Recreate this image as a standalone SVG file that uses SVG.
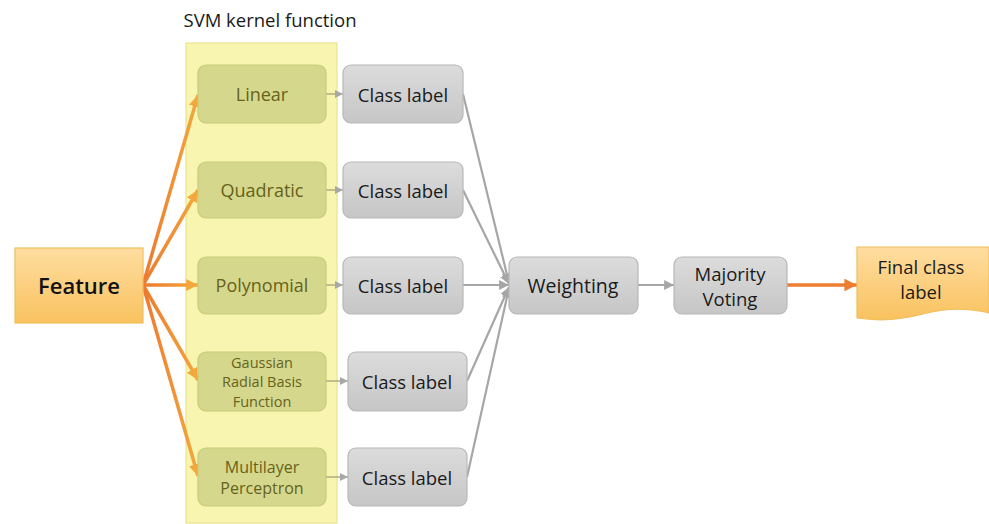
<svg xmlns="http://www.w3.org/2000/svg" width="989" height="524" viewBox="0 0 989 524">
<defs>
<style>
text{font-family:"Open Sans","Liberation Sans",sans-serif;text-anchor:middle;dominant-baseline:central}
.k rect{fill:#D5D88C;stroke:#C8CB78;stroke-width:1.2}
.k text{fill:#66621C;font-size:18px}
.k text.s{font-size:14.5px}
.c rect{fill:url(#gGray);stroke:#B8B8B8;stroke-width:1.2}
.c text{fill:#1A1A1A;font-size:18.5px}
.o{fill:none;stroke:url(#gOr);stroke-width:3.5;marker-end:url(#aOr)}
.g{fill:none;stroke:#A6A6A6;stroke-width:2.2;marker-end:url(#aGr)}
.sg{fill:none;stroke:#C2BE8C;stroke-width:2;marker-end:url(#aSm)}
</style>
<linearGradient id="gGray" x1="0" y1="0" x2="0" y2="1"><stop offset="0" stop-color="#DCDCDC"/><stop offset="1" stop-color="#C6C6C6"/></linearGradient>
<linearGradient id="gFeat" x1="0" y1="0" x2="0" y2="1"><stop offset="0" stop-color="#FFDDA0"/><stop offset="1" stop-color="#F9C260"/></linearGradient>
<linearGradient id="gOr" gradientUnits="userSpaceOnUse" x1="143" y1="0" x2="198" y2="0"><stop offset="0" stop-color="#EC7A30"/><stop offset="1" stop-color="#F3A73C"/></linearGradient>
<marker id="aOr" viewBox="0 0 10 10" refX="10" refY="5" markerWidth="3.4" markerHeight="3.4" orient="auto" markerUnits="strokeWidth"><path d="M0,0 L10,5 L0,10 Z" fill="#F2A83C"/></marker>
<marker id="aOr2" viewBox="0 0 10 10" refX="10" refY="5" markerWidth="4" markerHeight="3.6" orient="auto" markerUnits="strokeWidth"><path d="M0,0 L10,5 L0,10 Z" fill="#ED7D31"/></marker>
<marker id="aGr" viewBox="0 0 10 10" refX="10" refY="5" markerWidth="4.5" markerHeight="4.5" orient="auto" markerUnits="strokeWidth"><path d="M0,0 L10,5 L0,10 Z" fill="#A6A6A6"/></marker>
<marker id="aSm" viewBox="0 0 10 10" refX="10" refY="5" markerWidth="4" markerHeight="4" orient="auto" markerUnits="strokeWidth"><path d="M0,0 L10,5 L0,10 Z" fill="#A8A8A8"/></marker>
</defs>
<rect width="989" height="524" fill="#FFFFFF"/>

<g id="panel">
<rect x="186" y="43" width="151" height="480" fill="#F7F5B0" stroke="#ECE48C" stroke-width="1.2"/>
<text x="270" y="19" style="font-size:18.5px;fill:#1A1A1A">SVM kernel function</text>
</g>

<g id="connectors">
<path class="o" d="M143,285 L198,95"/>
<path class="o" d="M143,285 L198,190"/>
<path class="o" d="M143,285 L198,285"/>
<path class="o" d="M143,285 L198,380"/>
<path class="o" d="M143,285 L198,476"/>
<path class="sg" d="M326,94 L343,94"/>
<path class="sg" d="M326,190 L343,190"/>
<path class="sg" d="M326,285 L343,285"/>
<path class="sg" d="M326,381 L348,381"/>
<path class="sg" d="M326,477 L348,477"/>
<path class="g" d="M463,94 L509,283"/>
<path class="g" d="M463,190 L509,284"/>
<path class="g" d="M463,285 L509,285"/>
<path class="g" d="M467,381 L509,287"/>
<path class="g" d="M467,477 L509,288"/>
<path class="g" d="M638,285 L674,285"/>
<path d="M787,285 L857,285" fill="none" stroke="#ED7D31" stroke-width="3.5" marker-end="url(#aOr2)"/>
</g>

<g id="feature">
<rect x="15" y="248" width="128" height="75" fill="url(#gFeat)" stroke="#F0BE5A" stroke-width="1.2"/>
<text x="79" y="285" style="font-size:22px;fill:#111;font-weight:600">Feature</text>
</g>

<g id="k-linear" class="k"><rect x="198" y="65" width="128" height="58" rx="8"/><text x="262" y="94">Linear</text></g>
<g id="k-quadratic" class="k"><rect x="198" y="162" width="128" height="56" rx="8"/><text x="262" y="190">Quadratic</text></g>
<g id="k-polynomial" class="k"><rect x="198" y="257" width="128" height="57" rx="8"/><text x="262" y="285">Polynomial</text></g>
<g id="k-gaussian" class="k"><rect x="198" y="352" width="128" height="59" rx="8"/><text class="s" x="262" y="362">Gaussian</text><text class="s" x="262" y="381">Radial Basis</text><text class="s" x="262" y="401">Function</text></g>
<g id="k-mlp" class="k"><rect x="198" y="448" width="128" height="58" rx="8"/><text x="262" y="467" style="font-size:16px">Multilayer</text><text x="262" y="488" style="font-size:16px">Perceptron</text></g>

<g id="c1" class="c"><rect x="343" y="65" width="120" height="58" rx="8"/><text x="403" y="94">Class label</text></g>
<g id="c2" class="c"><rect x="343" y="162" width="120" height="56" rx="8"/><text x="403" y="190">Class label</text></g>
<g id="c3" class="c"><rect x="343" y="257" width="120" height="57" rx="8"/><text x="403" y="285">Class label</text></g>
<g id="c4" class="c"><rect x="348" y="352" width="119" height="59" rx="8"/><text x="407" y="381">Class label</text></g>
<g id="c5" class="c"><rect x="348" y="448" width="119" height="58" rx="8"/><text x="407" y="477">Class label</text></g>

<g id="weighting" class="c"><rect x="509" y="257" width="129" height="57" rx="8"/><text x="573" y="285" style="font-size:19.5px">Weighting</text></g>
<g id="majority" class="c"><rect x="674" y="257" width="113" height="57" rx="8"/><text x="730" y="273">Majority</text><text x="730" y="298">Voting</text></g>

<g id="final">
<path d="M857,247 H989 V313 Q956,305 923,314 Q890,323 857,318 Z" fill="url(#gFeat)" stroke="#F0BE5A" stroke-width="1.2"/>
<text x="921" y="266" style="font-size:18.5px;fill:#1A1A1A">Final class</text>
<text x="921" y="291" style="font-size:18.5px;fill:#1A1A1A">label</text>
</g>
</svg>
